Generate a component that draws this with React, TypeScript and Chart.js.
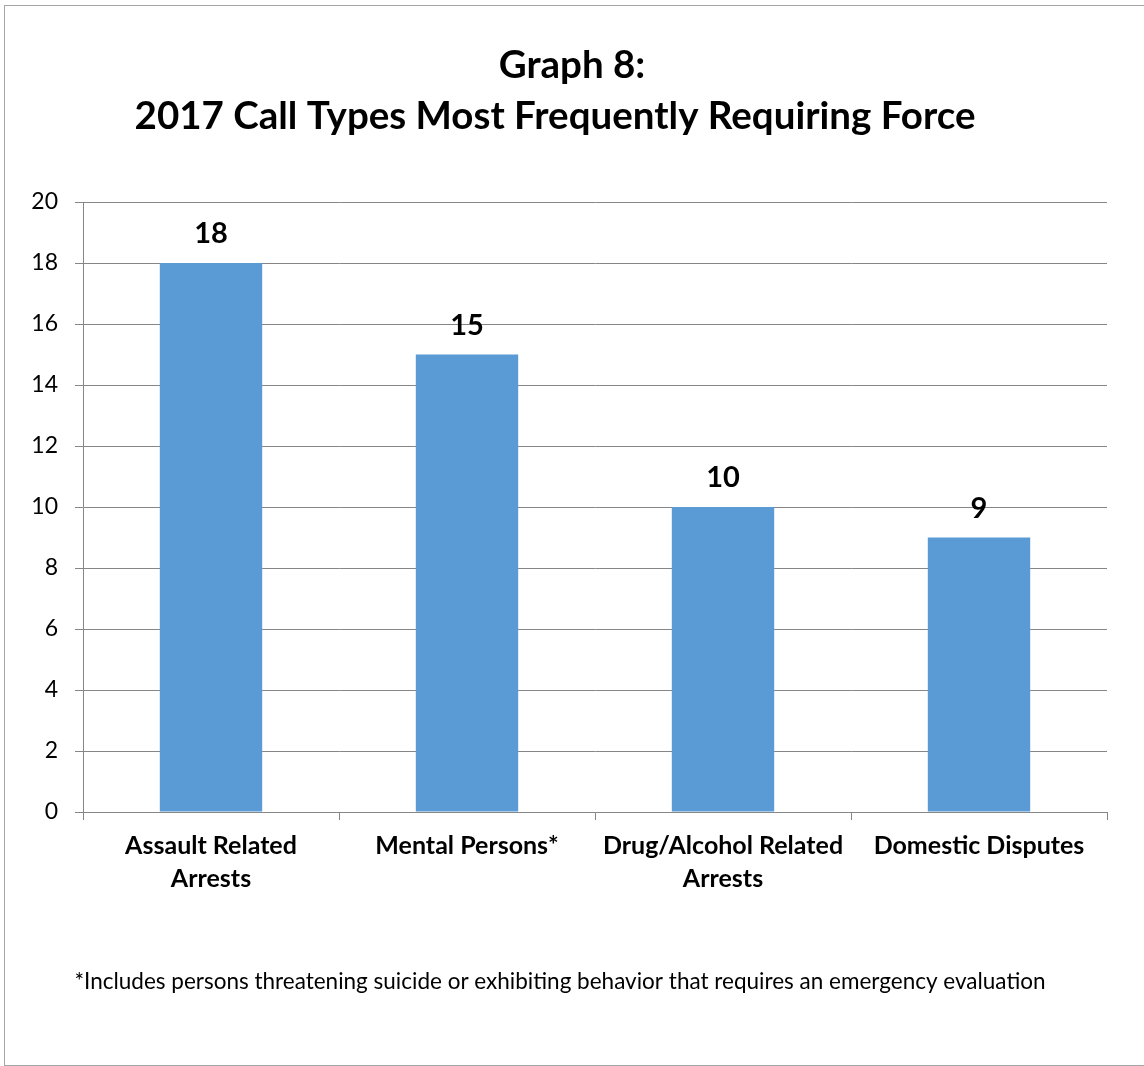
import { useEffect, useRef } from 'react';
import { Chart, registerables } from 'chart.js';

Chart.register(...registerables);

// Call types (multi-line axis labels) and number of force incidents per type
const categories: string[][] = [
  ['Assault Related', 'Arrests'],
  ['Mental Persons*'],
  ['Drug/Alcohol Related', 'Arrests'],
  ['Domestic Disputes'],
];
const incidents: number[] = [18, 15, 10, 9];

// Value axis range
const yMin = 0;
const yMax = 20;
const yStep = 2;

const titleLines: string[] = ['Graph 8:', '2017 Call Types Most Frequently Requiring Force'];
const footnote =
  '*Includes persons threatening suicide or exhibiting behavior that requires an emergency evaluation';

const FONT = 'Lato, "Open Sans", sans-serif';
const BAR_BLUE = '#5B9BD5';
const GRID_GRAY = '#868686';

// Draws the value above each bar
const valueLabels = {
  id: 'valueLabels',
  afterDatasetsDraw(chart: any) {
    const { ctx } = chart;
    const meta = chart.getDatasetMeta(0);
    const data = chart.data.datasets[0].data as number[];
    ctx.save();
    ctx.font = `bold 29px ${FONT}`;
    ctx.fillStyle = '#000';
    ctx.textAlign = 'center';
    ctx.textBaseline = 'alphabetic';
    meta.data.forEach((bar: any, i: number) => {
      ctx.fillText(String(data[i]), bar.x, bar.y - 20);
    });
    ctx.restore();
  },
};

// Two-line heading and the footnote under the axis
const headingAndNote = {
  id: 'headingAndNote',
  afterDraw(chart: any) {
    const { ctx, width } = chart;
    ctx.save();
    ctx.fillStyle = '#000';
    ctx.textAlign = 'center';
    ctx.textBaseline = 'alphabetic';
    ctx.font = `bold 38.5px ${FONT}`;
    ctx.fillText(titleLines[0], width / 2, 78);
    ctx.fillText(titleLines[1], width / 2 - 17, 129);
    ctx.font = `22.5px ${FONT}`;
    ctx.fillText(footnote, width / 2 - 12, 989);
    ctx.restore();
  },
};

export default function App() {
  const canvasRef = useRef<HTMLCanvasElement | null>(null);

  useEffect(() => {
    const canvas = canvasRef.current;
    if (!canvas) return;
    const chart = new Chart(canvas, {
      type: 'bar',
      data: {
        labels: categories,
        datasets: [
          {
            data: incidents,
            backgroundColor: BAR_BLUE,
            borderWidth: 0,
            barPercentage: 0.4,
            categoryPercentage: 1,
          },
        ],
      },
      options: {
        responsive: false,
        animation: false,
        devicePixelRatio: 1,
        layout: { padding: { top: 202, right: 37, bottom: 134, left: 0 } },
        plugins: {
          legend: { display: false },
          tooltip: { enabled: false },
          title: { display: false },
        },
        scales: {
          x: {
            offset: true,
            grid: {
              offset: true,
              drawOnChartArea: false,
              drawTicks: true,
              tickLength: 8,
              color: GRID_GRAY,
            },
            border: { color: GRID_GRAY },
            ticks: {
              color: '#000',
              padding: 9,
              maxRotation: 0,
              autoSkip: false,
              font: { family: FONT, size: 25, weight: 'bold', lineHeight: 33 / 25 },
            },
            afterFit(scale: any) {
              scale.height = 120;
            },
          },
          y: {
            min: yMin,
            max: yMax,
            grid: { color: GRID_GRAY, tickLength: 8 },
            border: { color: GRID_GRAY },
            ticks: {
              stepSize: yStep,
              color: '#000',
              padding: 17,
              font: { family: FONT, size: 23 },
            },
            afterFit(scale: any) {
              scale.width = 83;
            },
          },
        },
      },
      plugins: [valueLabels, headingAndNote],
    });
    return () => chart.destroy();
  }, []);

  return (
    <div
      style={{
        position: 'absolute',
        left: 0,
        top: 0,
        width: 1144,
        height: 1066,
        overflow: 'hidden',
        background: '#fff',
      }}
    >
      <div
        style={{
          position: 'absolute',
          left: 4,
          top: 5,
          width: 1200,
          height: 1061,
          border: '1px solid #a6a6a6',
          boxSizing: 'border-box',
        }}
      />
      <canvas
        ref={canvasRef}
        width={1144}
        height={1066}
        style={{ position: 'absolute', left: 0, top: 0, width: 1144, height: 1066 }}
      />
    </div>
  );
}
